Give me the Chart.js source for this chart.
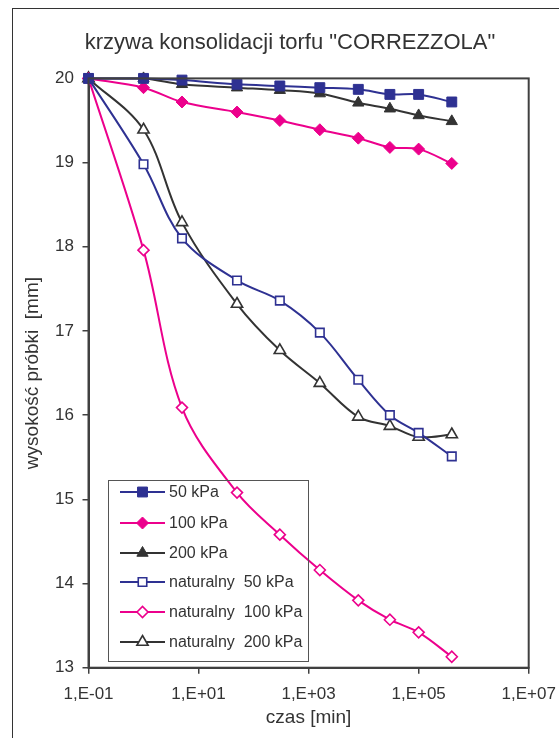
<!DOCTYPE html>
<html lang="pl">
<head>
    <meta charset="UTF-8">
    <title>krzywa konsolidacji torfu "CORREZZOLA"</title>
    <script src="https://cdn.jsdelivr.net/npm/chart.js"></script>
    <style>
        body {
            margin: 0;
            padding: 0;
            background: #ffffff;
        }
        #wrap {
            position: relative;
            width: 559px;
            height: 738px;
        }
    </style>
</head>
<body>
    <div id="wrap">
        <canvas id="konsolidacja" width="559" height="738"></canvas>
    </div>

    <script>
        // czas [min] - wspólne punkty pomiarowe
        const czas = [0.1, 1, 5, 50, 300, 1600, 8000, 30000, 100000, 400000];

        // wysokość próbki [mm]
        const kpa50 = [20, 20.0, 19.98, 19.93, 19.91, 19.89, 19.87, 19.81, 19.81, 19.72];
        const kpa100 = [20, 19.89, 19.72, 19.60, 19.50, 19.39, 19.29, 19.18, 19.16, 18.99];
        const kpa200 = [20, 20.0, 19.93, 19.89, 19.86, 19.82, 19.71, 19.64, 19.56, 19.49];
        const nat50 = [20, 18.98, 18.10, 17.60, 17.36, 16.98, 16.42, 16.00, 15.79, 15.51];
        const nat100 = [20, 17.96, 16.09, 15.08, 14.58, 14.16, 13.80, 13.57, 13.42, 13.13];
        const nat200 = [20, 19.39, 18.29, 17.32, 16.77, 16.38, 15.98, 15.87, 15.74, 15.77];

        // podpisy osi X
        const xTicks = [0.1, 10, 1000, 100000, 10000000];
        const xTickLabels = ['1,E-01', '1,E+01', '1,E+03', '1,E+05', '1,E+07'];

        const FONT = "'Liberation Sans', Arial, sans-serif";
        const NAVY = '#2e3192';
        const PINK = '#ec008c';
        const DARK = '#333333';
        const AXIS = '#404040';

        function toPoints(ys) {
            return czas.map((x, i) => ({ x: x, y: ys[i] }));
        }

        function series(label, ys, color, style, radius, filled) {
            return {
                label: label,
                data: toPoints(ys),
                borderColor: color,
                backgroundColor: color,
                borderWidth: 2,
                tension: 0.35,
                clip: false,
                pointStyle: style,
                pointRadius: radius,
                pointHoverRadius: radius,
                pointBorderWidth: filled ? 1 : 1.6,
                pointBorderColor: color,
                pointBackgroundColor: filled ? color : '#ffffff'
            };
        }

        // legenda wewnątrz obszaru wykresu + ramki
        const ramkaPlugin = {
            id: 'ramka',
            beforeDraw(chart) {
                const ctx = chart.ctx;
                ctx.save();
                ctx.strokeStyle = DARK;
                ctx.lineWidth = 1;
                ctx.strokeRect(12.5, 8.5, 700, 800);
                ctx.restore();
            },
            afterDraw(chart) {
                const ctx = chart.ctx;
                const a = chart.chartArea;
                ctx.save();
                ctx.strokeStyle = AXIS;
                ctx.lineWidth = 2;
                ctx.strokeRect(a.left, a.top, a.right - a.left, a.bottom - a.top);

                // legenda
                ctx.strokeStyle = '#555555';
                ctx.lineWidth = 1;
                ctx.strokeRect(108.5, 480.5, 200, 181);
                const rows = [492, 523, 553, 582, 612, 642];
                ctx.font = '16px ' + FONT;
                ctx.textBaseline = 'middle';
                ctx.textAlign = 'left';
                chart.data.datasets.forEach((ds, i) => {
                    const y = rows[i];
                    ctx.strokeStyle = ds.borderColor;
                    ctx.lineWidth = 2;
                    ctx.beginPath();
                    ctx.moveTo(120, y);
                    ctx.lineTo(165, y);
                    ctx.stroke();
                    ctx.fillStyle = ds.pointBackgroundColor;
                    ctx.strokeStyle = ds.pointBorderColor;
                    ctx.lineWidth = ds.pointBorderWidth;
                    Chart.helpers.drawPoint(ctx, {
                        pointStyle: ds.pointStyle,
                        radius: ds.pointRadius,
                        rotation: 0,
                        borderWidth: ds.pointBorderWidth
                    }, 142.5, y);
                    ctx.fillStyle = DARK;
                    ctx.fillText(ds.label, 169, y + 1);
                });
                ctx.restore();
            }
        };

        function createChart() {
            const ctx = document.getElementById('konsolidacja').getContext('2d');
            new Chart(ctx, {
                type: 'line',
                data: {
                    datasets: [
                        series('50 kPa', kpa50, NAVY, 'rect', 7, true),
                        series('100 kPa', kpa100, PINK, 'rectRot', 6, true),
                        series('200 kPa', kpa200, DARK, 'triangle', 6.5, true),
                        series('naturalny  50 kPa', nat50, NAVY, 'rect', 6, false),
                        series('naturalny  100 kPa', nat100, PINK, 'rectRot', 5.5, false),
                        series('naturalny  200 kPa', nat200, DARK, 'triangle', 6.5, false)
                    ]
                },
                options: {
                    responsive: false,
                    devicePixelRatio: 1,
                    animation: false,
                    events: [],
                    layout: {
                        padding: { left: 21, right: 0, top: 0, bottom: 0 }
                    },
                    plugins: {
                        legend: { display: false },
                        tooltip: { enabled: false },
                        title: {
                            display: true,
                            text: 'krzywa konsolidacji torfu "CORREZZOLA"',
                            color: DARK,
                            font: { family: FONT, size: 22, weight: 'normal' },
                            padding: { top: 30, bottom: 22 }
                        }
                    },
                    scales: {
                        x: {
                            type: 'logarithmic',
                            min: 0.1,
                            max: 10000000,
                            afterBuildTicks: (scale) => {
                                scale.ticks = xTicks.map(v => ({ value: v }));
                            },
                            afterFit: (scale) => {
                                scale.height = 70.3;
                                // margines daje pusta oś y2
                                scale.paddingLeft = 0;
                                scale.paddingRight = 0;
                            },
                            ticks: {
                                autoSkip: false,
                                maxRotation: 0,
                                padding: 10.5,
                                color: DARK,
                                font: { family: FONT, size: 17 },
                                callback: (value) => xTickLabels[xTicks.indexOf(value)] || ''
                            },
                            grid: {
                                drawOnChartArea: false,
                                tickLength: 6,
                                color: AXIS,
                                lineWidth: 1.5
                            },
                            border: { color: AXIS, width: 2 },
                            title: {
                                display: true,
                                text: 'czas [min]',
                                color: DARK,
                                font: { family: FONT, size: 19 },
                                padding: { top: 0, bottom: 9 }
                            }
                        },
                        y: {
                            min: 13,
                            max: 20,
                            afterFit: (scale) => { scale.width = 67.5; },
                            ticks: {
                                stepSize: 1,
                                padding: 8.5,
                                color: DARK,
                                font: { family: FONT, size: 17 }
                            },
                            grid: {
                                drawOnChartArea: false,
                                tickLength: 6,
                                color: AXIS,
                                lineWidth: 1.5
                            },
                            border: { color: AXIS, width: 2 },
                            title: {
                                display: true,
                                text: 'wysokość próbki  [mm]',
                                color: DARK,
                                font: { family: FONT, size: 19 },
                                padding: { top: 0, bottom: 0 }
                            }
                        },
                        // pusta oś po prawej - tylko margines
                        y2: {
                            type: 'linear',
                            position: 'right',
                            min: 13,
                            max: 20,
                            afterFit: (scale) => { scale.width = 30.3; },
                            ticks: { display: false },
                            grid: { display: false },
                            border: { display: false }
                        }
                    }
                },
                plugins: [ramkaPlugin]
            });
        }

        document.addEventListener('DOMContentLoaded', createChart);
    </script>
</body>
</html>
